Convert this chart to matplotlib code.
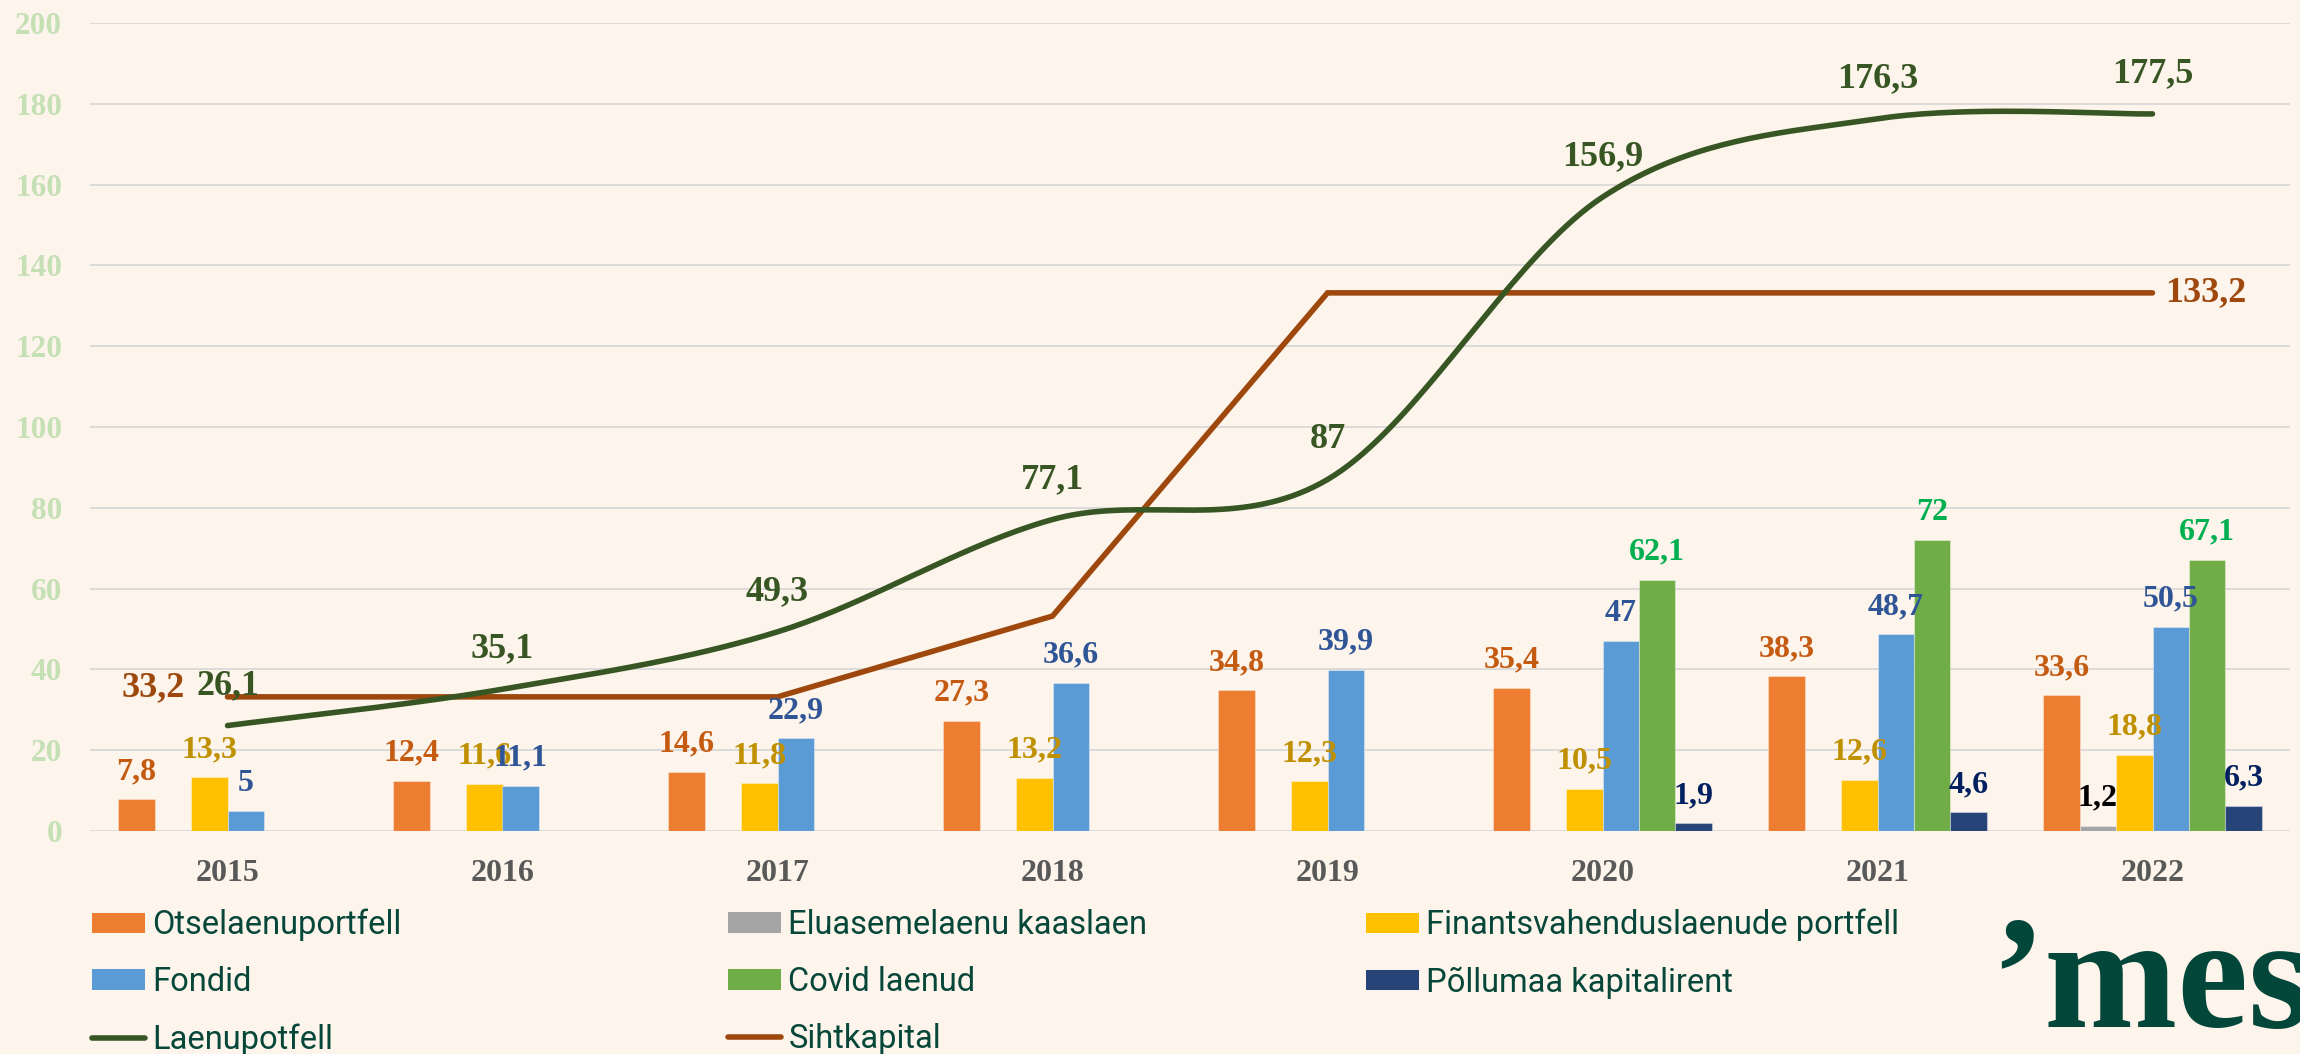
import numpy as np
from matplotlib import pyplot as plt
from matplotlib.patches import Patch
from matplotlib.lines import Line2D

nan = np.nan

years = ["2015", "2016", "2017", "2018", "2019", "2020", "2021", "2022"]
otselaenuportfell = [7.8, 12.4, 14.6, 27.3, 34.8, 35.4, 38.3, 33.6]
eluasemelaenu = [nan, nan, nan, nan, nan, nan, nan, 1.2]
finantsvahendus = [13.3, 11.6, 11.8, 13.2, 12.3, 10.5, 12.6, 18.8]
fondid = [5, 11.1, 22.9, 36.6, 39.9, 47, 48.7, 50.5]
covid_laenud = [nan, nan, nan, nan, nan, 62.1, 72, 67.1]
pollumaa = [nan, nan, nan, nan, nan, 1.9, 4.6, 6.3]
laenupotfell = [26.1, 35.1, 49.3, 77.1, 87, 156.9, 176.3, 177.5]
sihtkapital = [33.2, 33.2, 33.2, 53.2, 133.2, 133.2, 133.2, 133.2]

BG = "#FDF4EB"
SERIF = "Liberation Serif"
LEGEND_FONT = "Roboto"
TEXT_GREEN = "#06473A"


def fmt(v):
    return f"{v:g}".replace(".", ",")


def smooth(xs, ys, n=40):
    # excel style bezier smoothing through the points
    pts = np.column_stack([xs, ys]).astype(float)
    out = [pts[0]]
    t = np.linspace(0, 1, n)[1:, None]
    for i in range(len(pts) - 1):
        p0 = pts[i - 1] if i > 0 else pts[i]
        p1 = pts[i]
        p2 = pts[i + 1]
        p3 = pts[i + 2] if i + 2 < len(pts) else pts[i + 1]
        c1 = p1 + (p2 - p0) / 6
        c2 = p2 - (p3 - p1) / 6
        seg = (1 - t) ** 3 * p1 + 3 * (1 - t) ** 2 * t * c1 + 3 * (1 - t) * t ** 2 * c2 + t ** 3 * p2
        out.extend(seg)
    return np.array(out)


bar_series = [
    ("Otselaenuportfell", otselaenuportfell, "#ED7D31", "#C55A11"),
    ("Eluasemelaenu kaaslaen", eluasemelaenu, "#A5A5A5", "#000000"),
    ("Finantsvahenduslaenude portfell", finantsvahendus, "#FFC000", "#BF9000"),
    ("Fondid", fondid, "#5B9BD5", "#2F5597"),
    ("Covid laenud", covid_laenud, "#70AD47", "#00B050"),
    ("Põllumaa kapitalirent", pollumaa, "#264478", "#002060"),
]
line_green = "#375623"
line_brown = "#9E480E"

fig = plt.figure(figsize=(23, 10.54), dpi=100, facecolor=BG)
ax = fig.add_axes([90 / 2300, 1 - 831 / 1054, 2200 / 2300, 808 / 1054])
ax.set_facecolor(BG)

x = np.arange(len(years))
width = 0.1327
handles = {}
for i, (name, vals, color, lab_color) in enumerate(bar_series):
    pos = x + (i - 2.5) * width
    ax.bar(pos, vals, width, color=color, edgecolor=(1, 1, 1, 0.35), linewidth=0.8, zorder=2)
    handles[name] = Patch(facecolor=color, label=name)
    for px, v in zip(pos, vals):
        if np.isnan(v):
            continue
        ax.annotate(fmt(v), (px, v), xytext=(0, 20), textcoords="offset points",
                    ha="center", va="center", fontsize=23, fontweight="bold",
                    family=SERIF, color=lab_color, zorder=5)

sm = smooth(x, laenupotfell)
ax.plot(sm[:, 0], sm[:, 1], color=line_green, lw=4, solid_capstyle="round", zorder=4)
for px, v in zip(x, laenupotfell):
    ax.annotate(fmt(v), (px, v), xytext=(0, 29), textcoords="offset points",
                ha="center", va="center", fontsize=26, fontweight="bold",
                family=SERIF, color=line_green, zorder=5)

ax.plot(x, sihtkapital, color=line_brown, lw=4, solid_capstyle="round",
        solid_joinstyle="miter", zorder=3)
ax.annotate(fmt(sihtkapital[0]), (x[0], sihtkapital[0]), xytext=(-31, 7), textcoords="offset points",
            ha="right", va="center", fontsize=26, fontweight="bold", family=SERIF, color=line_brown, zorder=5)
ax.annotate(fmt(sihtkapital[-1]), (x[-1], sihtkapital[-1]), xytext=(9, 0), textcoords="offset points",
            ha="left", va="center", fontsize=26, fontweight="bold", family=SERIF, color=line_brown, zorder=5)

handles["Laenupotfell"] = Line2D([], [], color=line_green, lw=4, solid_capstyle="round", label="Laenupotfell")
handles["Sihtkapital"] = Line2D([], [], color=line_brown, lw=4, solid_capstyle="round", label="Sihtkapital")

ax.set_xlim(-0.5, 7.5)
ax.set_ylim(0, 200)
ax.set_yticks(np.arange(0, 201, 20))
ax.set_xticks(x)
ax.set_xticklabels(years)
ax.grid(axis="y", color="#D9D9D9", lw=1.3, zorder=0)
ax.set_axisbelow(True)
for s in ax.spines.values():
    s.set_visible(False)
ax.tick_params(length=0)
ax.tick_params(axis="y", pad=20, labelcolor="#C5E0B4", labelsize=22.5)
ax.tick_params(axis="x", pad=20, labelcolor="#595959", labelsize=23)
for lab in ax.get_yticklabels() + ax.get_xticklabels():
    lab.set_family(SERIF)
    lab.set_fontweight("bold")

columns = [
    (92, ["Otselaenuportfell", "Fondid", "Laenupotfell"]),
    (728, ["Eluasemelaenu kaaslaen", "Covid laenud", "Sihtkapital"]),
    (1366, ["Finantsvahenduslaenude portfell", "Põllumaa kapitalirent"]),
]
for xpix, names in columns:
    fig.legend([handles[n] for n in names], names, loc="upper left",
               bbox_to_anchor=(xpix / 2300, 1 - 909 / 1054), frameon=False,
               borderpad=0, borderaxespad=0, handlelength=1.63, handleheight=0.6,
               handletextpad=0.22, labelspacing=0.76,
               prop={"family": LEGEND_FONT, "size": 23.5}, labelcolor=TEXT_GREEN)

fig.text(1991 / 2300, 1 - 1027 / 1054, "\u2019mes", family=SERIF, fontweight="bold",
         fontsize=115, color="#03473A", ha="left", va="baseline")

fig.savefig("out.png", dpi=100, facecolor=BG)
